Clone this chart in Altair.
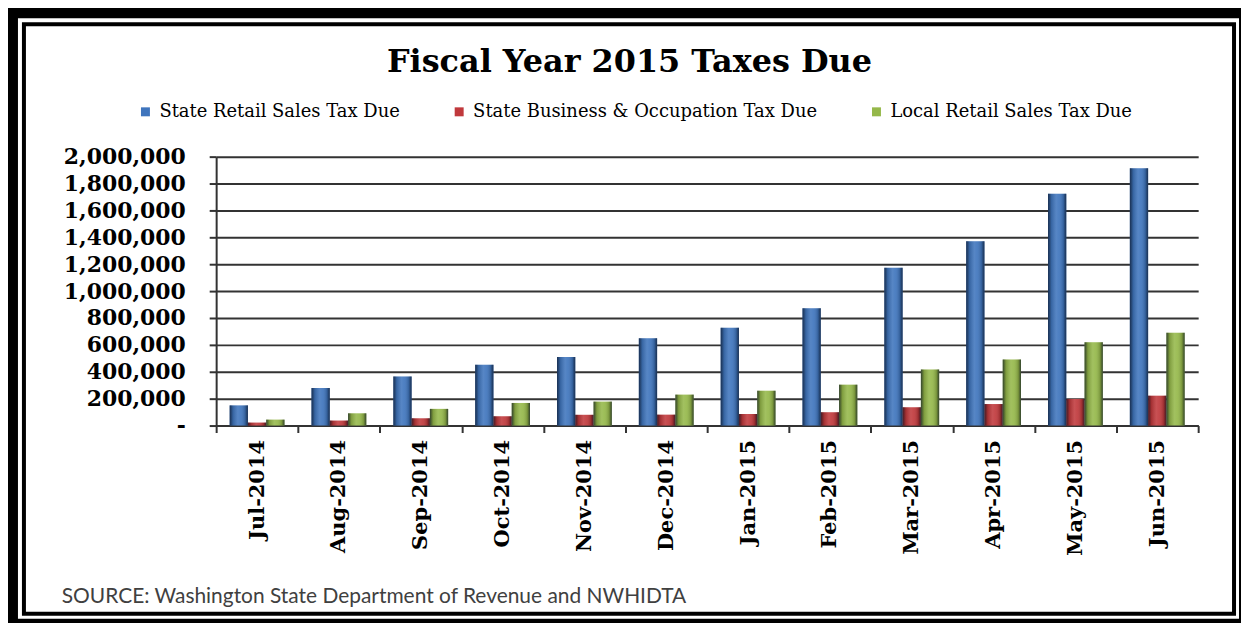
import altair as alt
import pandas as pd

months = ["Jul-2014", "Aug-2014", "Sep-2014", "Oct-2014", "Nov-2014", "Dec-2014",
          "Jan-2015", "Feb-2015", "Mar-2015", "Apr-2015", "May-2015", "Jun-2015"]
series = ["State Retail Sales Tax Due",
          "State Business & Occupation Tax Due",
          "Local  Retail Sales Tax Due"]
state_retail = [150000, 280000, 365000, 452000, 509000, 650000,
                728000, 872000, 1173000, 1370000, 1724000, 1913000]
state_bo = [22000, 37000, 54000, 69000, 80000, 81000,
            86000, 99000, 136000, 160000, 198000, 222000]
local_retail = [44000, 91000, 124000, 168000, 178000, 230000,
                259000, 304000, 417000, 491000, 620000, 691000]
y_ticks = [0, 200000, 400000, 600000, 800000, 1000000,
           1200000, 1400000, 1600000, 1800000, 2000000]
colors = ["#3f75bd", "#c0393c", "#95b84a"]
title_text = "Fiscal Year 2015 Taxes Due"
source_text = "SOURCE: Washington State Department of Revenue and NWHIDTA"

rows = []
for s, vals in zip(series, [state_retail, state_bo, local_retail]):
    for m, v in zip(months, vals):
        rows.append({"month": m, "series": s, "value": v})
df = pd.DataFrame(rows)
one = pd.DataFrame({"k": [0]})

NB = "\u00a0"
X = alt.X("month:N", sort=months,
          scale=alt.Scale(paddingInner=0, paddingOuter=0),
          axis=alt.Axis(title=None, labelAngle=270, labelFont="DejaVu Serif",
                        labelFontSize=21, labelFontWeight="bold", labelColor="black",
                        labelPadding=7, tickSize=7, tickWidth=2, tickColor="#333333",
                        domainColor="#333333", domainWidth=2, tickBand="extent",
                        grid=False, labelLimit=300))
XO = alt.XOffset("series:N", sort=series,
                 scale=alt.Scale(paddingInner=0, paddingOuter=0.739))
Y = alt.Y("value:Q", scale=alt.Scale(domain=[0, 2000000], nice=False),
          axis=alt.Axis(title=None, values=y_ticks,
                        labelExpr="datum.value == 0 ? '-" + NB + NB + "' : format(datum.value, ',')",
                        labelFont="DejaVu Serif", labelFontSize=22, labelFontWeight="bold",
                        labelColor="black", labelPadding=24, tickSize=7, tickWidth=2,
                        tickColor="#333333", domainColor="#333333", domainWidth=2,
                        gridColor="#333333", gridWidth=2))

bars = alt.Chart(df).mark_bar().encode(
    x=X, xOffset=XO, y=Y,
    color=alt.Color("series:N", sort=series,
                    scale=alt.Scale(domain=series, range=colors),
                    legend=alt.Legend(title=None, orient="none", legendX=-80, legendY=-54,
                                      direction="horizontal", symbolType="square",
                                      symbolSize=81, symbolStrokeWidth=0,
                                      labelFont="DejaVu Serif", labelFontSize=18,
                                      labelColor="black", columnPadding=50,
                                      labelOffset=5, padding=0, labelLimit=500))
)

shade_grad = {
    "gradient": "linear", "x1": 0, "x2": 1, "y1": 0, "y2": 0,
    "stops": [
        {"offset": 0, "color": "rgba(10,20,40,0.7)"},
        {"offset": 0.18, "color": "rgba(0,0,0,0.15)"},
        {"offset": 0.45, "color": "rgba(255,255,255,0.12)"},
        {"offset": 0.6, "color": "rgba(255,255,255,0.08)"},
        {"offset": 0.85, "color": "rgba(0,0,0,0.18)"},
        {"offset": 1, "color": "rgba(10,20,40,0.7)"},
    ],
}
shade = alt.Chart(df).mark_bar(color=shade_grad).encode(x=X, xOffset=XO, y=Y)

outer = alt.Chart(one).mark_rect(fill="transparent", stroke="black", strokeWidth=11).encode(
    x=alt.value(-204.5), x2=alt.value(1032.5), y=alt.value(-144.5), y2=alt.value(469.5))
inner = alt.Chart(one).mark_rect(fill="transparent", stroke="black", strokeWidth=4).encode(
    x=alt.value(-193), x2=alt.value(1022), y=alt.value(-133), y2=alt.value(459))

title = alt.Chart(one).mark_text(text=title_text, font="DejaVu Serif", fontSize=32,
                                 fontWeight="bold", color="black", align="center",
                                 baseline="alphabetic").encode(
    x=alt.value(415), y=alt.value(-85))
source = alt.Chart(one).mark_text(text=source_text, font="Lato", fontSize=21,
                                  color="#404040", align="left",
                                  baseline="alphabetic").encode(
    x=alt.value(-155), y=alt.value(448))

chart = alt.layer(outer, inner, bars, shade, title, source).properties(
    width=986, height=270,
    padding={"left": 209, "top": 148, "right": 43, "bottom": 197},
    autosize=alt.AutoSizeParams(type="none"),
    background="white",
).configure_view(stroke=None)

chart.save("out.html", embed_options={"renderer": "svg", "actions": False})
